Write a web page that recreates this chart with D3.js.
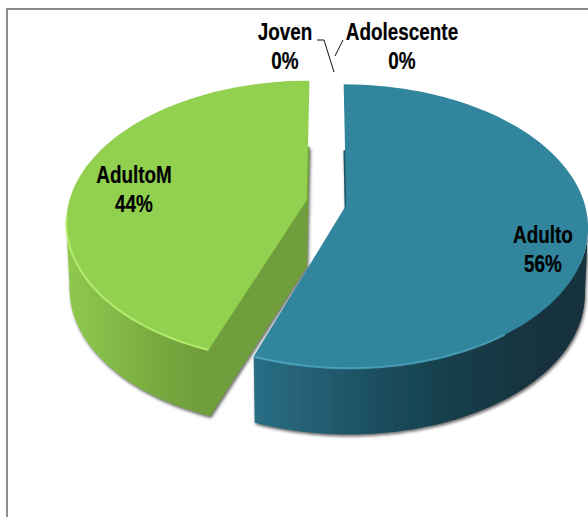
<!DOCTYPE html>
<html>
<head>
<meta charset="utf-8">
<script src="https://cdn.jsdelivr.net/npm/d3@7"></script>
<style>
  html, body { margin: 0; padding: 0; background: #fff; }
  svg { display: block; }
  text { font-family: "Liberation Sans", Arial, sans-serif; font-weight: bold; font-size: 21px; fill: #000; stroke: #000; stroke-width: 0.2px; }
</style>
</head>
<body>
<div id="chart"></div>
<script>
// ------ Data ---------------//
var categories = ["Adulto", "AdultoM", "Joven", "Adolescente"];
var values = [55.6, 44.4, 0, 0];
var percentLabels = ["56%", "44%", "0%", "0%"];

var width = 588, height = 517;

// ------ Look of each slice ---------------//
var topColors = ["#31859c", "#92d050"];
var edgeColors = ["#56b0cb", "#b8f06e"];
var wallColors = [["#2a6f86", "#1f5568", "#163f4c", "#12333e"], ["#8fc94e", "#84ba47", "#78aa40", "#6f9e3b"]];
var cutColor = "#6f9e3c";

// ------ Projection: tilted disc with a little perspective ---------------//
var centre = { x: 326.5, y: 202.5 };
var radiusX = 238, radiusY = 138, persp = 0.15;
var explode = 0.084, depth = 66, bottomShrink = 0.987;

function project(u, v, lower) {
  var w = 1 + persp * v;
  var px = centre.x + radiusX * u / w;
  var py = centre.y - radiusY * v / w;
  if (lower) {
    px = centre.x + (px - centre.x) * bottomShrink;
    py = py + depth;
  }
  return [px, py];
}

var svg = d3.select("#chart").append("svg")
    .attr("width", width)
    .attr("height", height);

var defs = svg.append("defs");

var shadow = defs.append("filter").attr("id", "shadow")
    .attr("x", "-10%").attr("y", "-10%").attr("width", "120%").attr("height", "120%");
shadow.append("feDropShadow")
    .attr("dx", 1.2).attr("dy", 2).attr("stdDeviation", 1.8)
    .attr("flood-color", "#444").attr("flood-opacity", 0.8);

var bevelBlur = defs.append("filter").attr("id", "bevelBlur");
bevelBlur.append("feGaussianBlur").attr("stdDeviation", 0.5);

// ------ Chart border ---------------//
svg.append("path")
    .attr("d", d3.line()([[7, height], [7, 9], [width, 9]]))
    .attr("fill", "none")
    .attr("stroke", "#8c8c8c")
    .attr("stroke-width", 2);

// ------ Slices ---------------//
var pie = d3.pie().sort(null).value(function(d) { return d; });
var arcs = pie(values);
var line = d3.line();

// only the two visible slices get a body, the 0% ones have no area
var slices = arcs.filter(function(d) { return d.value > 0; });

slices.slice().reverse().forEach(function(d) {
  var mid = (d.startAngle + d.endAngle) / 2;
  var ex = explode * Math.sin(mid);
  var ey = explode * Math.cos(mid) * 1.2;
  var steps = d3.range(0, 121).map(function(i) {
    return d.startAngle + (d.endAngle - d.startAngle) * i / 120;
  });
  var rim = function(lower) {
    return steps.map(function(a) {
      return project(Math.sin(a) + ex, Math.cos(a) + ey, lower);
    });
  };
  var topRim = rim(false), lowRim = rim(true);
  var apexTop = project(ex, ey, false), apexLow = project(ex, ey, true);
  var xs = d3.extent(topRim, function(p) { return p[0]; });

  var gid = "wall" + d.index;
  var isTeal = d.index === 0;
  var grad = defs.append("linearGradient").attr("id", gid)
      .attr("gradientUnits", "userSpaceOnUse")
      .attr("x1", xs[0]).attr("x2", xs[1] - (isTeal ? 50 : 110))
      .attr("y1", 0).attr("y2", 0);
  wallColors[d.index].forEach(function(c, i) {
    grad.append("stop").attr("offset", i / 3).attr("stop-color", c);
  });

  // lower part throws the shadow, top face sits clean on it
  var g = svg.append("g").attr("filter", "url(#shadow)");

  g.append("path")
      .attr("d", line(lowRim.concat([apexLow])) + "Z")
      .attr("fill", "url(#" + gid + ")");

  // outer wall, cut where the rim turns to the back so its end stays hidden
  var wallKeep = function(p, i) {
    return Math.cos(steps[i]) < -0.15;
  };
  g.append("path")
      .attr("d", line(topRim.filter(wallKeep).concat(lowRim.filter(wallKeep).reverse())) + "Z")
      .attr("fill", "url(#" + gid + ")");

  // cut wall, only the green slice shows it
  if (!isTeal) {
    g.append("path")
        .attr("d", line([topRim[0], lowRim[0], apexLow, apexTop]) + "Z")
        .attr("fill", cutColor);
  }

  // top face
  svg.append("path")
      .attr("d", line(topRim.concat([apexTop])) + "Z")
      .attr("fill", topColors[d.index]);

  // bevel highlight on the front rim
  var front = topRim.filter(function(p, i) {
    var a = steps[i];
    return isTeal ? a > Math.PI * 0.8 : a < Math.PI * 1.46;
  });
  svg.append("path")
      .attr("d", line(front))
      .attr("fill", "none")
      .attr("stroke", edgeColors[d.index])
      .attr("stroke-width", 2)
      .attr("stroke-opacity", isTeal ? 0.7 : 0.9)
      .attr("filter", "url(#bevelBlur)");
});

// ------ Labels ---------------//
var labelPos = [
  { x: 543, y: 243 },
  { x: 134, y: 183 },
  { x: 285, y: 40 },
  { x: 402, y: 40 }
];
var lineGap = 26;

var labels = svg.selectAll("g.label")
    .data(categories)
    .join("g")
    .attr("class", "label")
    .attr("transform", function(d, i) {
      return "translate(" + labelPos[i].x + "," + labelPos[i].y + ") scale(0.9,1.11)";
    });

labels.append("text").attr("text-anchor", "middle").text(function(d) { return d; });
labels.append("text").attr("text-anchor", "middle").attr("y", lineGap)
    .text(function(d, i) { return percentLabels[i]; });

// ------ Leader lines ---------------//
var leaders = [
  [[317, 40], [324, 40], [334, 72]],
  [[343, 40], [335, 56]]
];
svg.selectAll("path.leader")
    .data(leaders)
    .join("path")
    .attr("class", "leader")
    .attr("d", function(d) { return line(d); })
    .attr("fill", "none")
    .attr("stroke", "#111")
    .attr("stroke-width", 1);
</script>
</body>
</html>
